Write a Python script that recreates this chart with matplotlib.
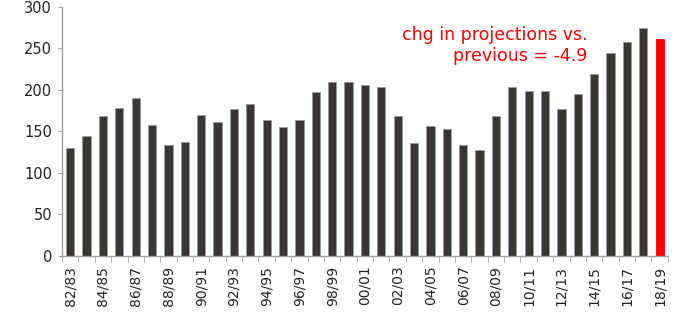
import matplotlib
matplotlib.use("Agg")
import matplotlib.pyplot as plt
import numpy as np

seasons = ["82/83", "83/84", "84/85", "85/86", "86/87", "87/88", "88/89", "89/90",
           "90/91", "91/92", "92/93", "93/94", "94/95", "95/96", "96/97", "97/98",
           "98/99", "99/00", "00/01", "01/02", "02/03", "03/04", "04/05", "05/06",
           "06/07", "07/08", "08/09", "09/10", "10/11", "11/12", "12/13", "13/14",
           "14/15", "15/16", "16/17", "17/18", "18/19"]
values = [130, 145, 168, 178, 190, 158, 134, 137, 170, 161, 176.5, 182.5, 164, 155,
          164, 197, 209, 209, 206, 203, 169, 136, 156, 153, 133, 128, 169, 203,
          198.5, 198.5, 177.5, 194.5, 219, 244, 257, 274, 261]
annotation = "chg in projections vs.\nprevious = -4.9"

plt.rcParams['font.family'] = ['DejaVu Sans']
fig = plt.figure(figsize=(6.83, 3.2), dpi=100)
ax = fig.add_axes([0.0908, 0.2, 0.887, 0.779])

x = np.arange(len(seasons))
colors = ["#3a3633"] * (len(seasons) - 1) + ["#ff0000"]
edges = ["#9a9896"] * (len(seasons) - 1) + ["#ff0000"]
ax.bar(x, values, width=0.5, color=colors, edgecolor=edges, linewidth=0.6, zorder=2)

ax.set_xlim(-0.5, len(seasons) - 0.5)
ax.set_ylim(0, 300)
ax.set_yticks(np.arange(0, 301, 50))
ax.tick_params(axis='y', length=3, labelsize=10.5, pad=4, colors="#a0a0a0", labelcolor="#222222")

ax.set_xticks(x[::2])
ax.set_xticklabels(seasons[::2], rotation=90, fontsize=10, color="#222222")
ax.set_xticks(np.arange(-0.5, len(seasons), 1), minor=True)
ax.tick_params(axis='x', which='major', length=0, pad=7)
ax.tick_params(axis='x', which='minor', length=4, color="#a0a0a0", direction='out')

for s in ["top", "right"]:
    ax.spines[s].set_visible(False)
for s in ["left", "bottom"]:
    ax.spines[s].set_color("#a0a0a0")
    ax.spines[s].set_linewidth(1.0)

ax.text(31.6, 253, annotation, color="#ff0000", fontsize=12.5, ha="right", va="center",
        linespacing=1.2)

fig.savefig("out.png", dpi=100)
